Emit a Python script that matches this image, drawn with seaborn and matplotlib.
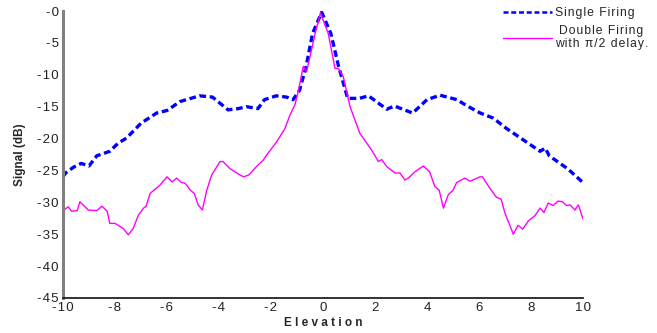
import seaborn as sns
import matplotlib.pyplot as plt

# --- Data ---
single_x = [-10, -9.9, -9.6, -9.3, -9.0, -8.7, -8.2, -7.9, -7.55, -7.0, -6.4, -6.0,
            -5.5, -4.75, -4.25, -3.65, -3.25, -2.95, -2.5, -2.25, -1.8, -1.4, -1.15,
            -0.9, -0.65, -0.4, -0.05, 0.3, 0.6, 0.95, 1.4, 1.75, 2.45, 2.75, 3.45,
            4.0, 4.5, 5.15, 5.55, 6.05, 6.55, 7.05, 7.7, 8.35, 8.55, 8.7, 9.4, 10]
single_db = [-26.0, -25.4, -24.5, -23.9, -24.3, -22.7, -22.0, -20.8, -19.9, -17.6,
             -16.0, -15.6, -14.2, -13.3, -13.5, -15.5, -15.3, -15.0, -15.3, -13.9,
             -13.3, -13.5, -13.9, -12.4, -8.7, -3.5, -0.2, -3.5, -8.7, -13.7, -13.7,
             -13.3, -15.4, -14.9, -16.0, -13.9, -13.2, -13.9, -14.9, -16.0, -16.8,
             -18.4, -20.2, -22.0, -21.5, -22.7, -24.7, -26.9]

double_x = [-10, -9.8, -9.67, -9.45, -9.35, -9.03, -8.7, -8.5, -8.3, -8.2, -8.0,
            -7.68, -7.49, -7.3, -7.1, -6.9, -6.8, -6.65, -6.27, -6.0, -5.8, -5.63,
            -5.44, -5.3, -5.1, -4.95, -4.8, -4.64, -4.47, -4.28, -3.96, -3.85, -3.58,
            -3.2, -3.05, -2.85, -2.56, -2.3, -2.17, -1.78, -1.46, -1.27, -1.08, -0.95,
            -0.76, -0.63, -0.3, -0.1, 0.2, 0.46, 0.59, 0.78, 1.04, 1.42, 1.87, 2.13,
            2.26, 2.45, 2.77, 2.96, 3.15, 3.28, 3.54, 3.86, 4.1, 4.3, 4.47, 4.63,
            4.82, 5.0, 5.14, 5.46, 5.65, 6.04, 6.13, 6.42, 6.67, 6.85, 7.0, 7.32,
            7.5, 7.68, 7.9, 8.15, 8.35, 8.5, 8.66, 8.85, 9.04, 9.2, 9.37, 9.5, 9.69,
            9.82, 10]
double_db = [-31.3, -30.7, -31.4, -31.3, -29.9, -31.2, -31.3, -30.6, -31.4, -33.3,
             -33.3, -34.1, -35.1, -34.1, -32.0, -30.9, -30.6, -28.6, -27.3, -26.0,
             -26.8, -26.2, -26.9, -27.0, -28.1, -28.6, -30.4, -31.2, -28.1, -25.7,
             -23.6, -23.6, -24.7, -25.7, -26.0, -25.7, -24.4, -23.4, -22.6, -20.5,
             -18.4, -16.3, -14.7, -12.6, -8.7, -9.5, -3.5, -0.3, -3.5, -9.0, -9.0,
             -10.3, -15.0, -19.2, -21.8, -23.6, -23.3, -24.4, -25.4, -25.4, -26.5,
             -26.2, -25.2, -24.3, -25.2, -27.5, -28.1, -30.9, -28.8, -28.1, -26.9,
             -26.2, -26.7, -26.0, -26.0, -27.8, -29.2, -29.5, -31.7, -35.0, -33.6,
             -34.2, -32.9, -32.1, -30.9, -31.6, -30.1, -30.5, -29.8, -29.9, -30.5,
             -30.4, -31.2, -30.4, -32.6]

x_ticks = [-10, -8, -6, -4, -2, 0, 2, 4, 6, 8, 10]
y_ticks = [0, -5, -10, -15, -20, -25, -30, -35, -40, -45]
y_ticklabels = ["-0", "-5", "-10", "-15", "-20", "-25", "-30", "-35", "-40", "-45"]


def spaced(s):
    # widen letter spacing with hair spaces, like the original export
    return "\u200a".join(s).replace("\u200a\n\u200a", "\n")


# --- Plot ---
sns.set_style("white")
plt.rcParams["font.family"] = ["Liberation Sans", "DejaVu Sans"]

fig = plt.figure(figsize=(6.57, 3.33), dpi=100)
ax = fig.add_axes([63 / 657, 1 - 298 / 333, 520 / 657, 287 / 333])

sns.lineplot(x=single_x, y=single_db, ax=ax, color="#0000ff", lw=2.4,
             dashes=False, label=spaced("Single Firing"))
ax.lines[-1].set_dashes((2.0, 1.1))
sns.lineplot(x=double_x, y=double_db, ax=ax, color="#ff00ff", lw=1.0,
             label=spaced("Double Firing\nwith \u03c0/2 delay."))

ax.set_xlim(-10, 10)
ax.set_ylim(-45, 0)
ax.set_xticks(x_ticks)
ax.set_xticklabels([spaced(str(t)) for t in x_ticks], fontsize=9.5)
ax.set_yticks(y_ticks)
ax.set_yticklabels([spaced(t) for t in y_ticklabels], fontsize=9.5)
ax.tick_params(direction="in", length=4, width=1, colors="#222222", pad=3)

for side in ["top", "right"]:
    ax.spines[side].set_visible(False)
ax.spines["left"].set_color("#808080")
ax.spines["left"].set_linewidth(2.2)
ax.spines["bottom"].set_color("#222222")
ax.spines["bottom"].set_linewidth(1.3)

ax.set_xlabel("E l e v a t i o n", fontsize=8.5, fontweight="bold", labelpad=2)
ax.set_ylabel("Signal (dB)", fontsize=8.5, fontweight="bold", labelpad=8)

ax.get_legend().remove()
handles, labels = ax.get_legend_handles_labels()
leg = fig.legend(handles, labels, loc="upper left", bbox_to_anchor=(496 / 657, 1.0),
                 frameon=False, fontsize=8.7, handlelength=4.0, handletextpad=0.25,
                 labelspacing=0.45, borderaxespad=0.2)
for t in leg.get_texts():
    t.set_multialignment("center")
leg.get_lines()[0].set_linewidth(1.8)

fig.savefig("out.png", dpi=100)
plt.close(fig)
